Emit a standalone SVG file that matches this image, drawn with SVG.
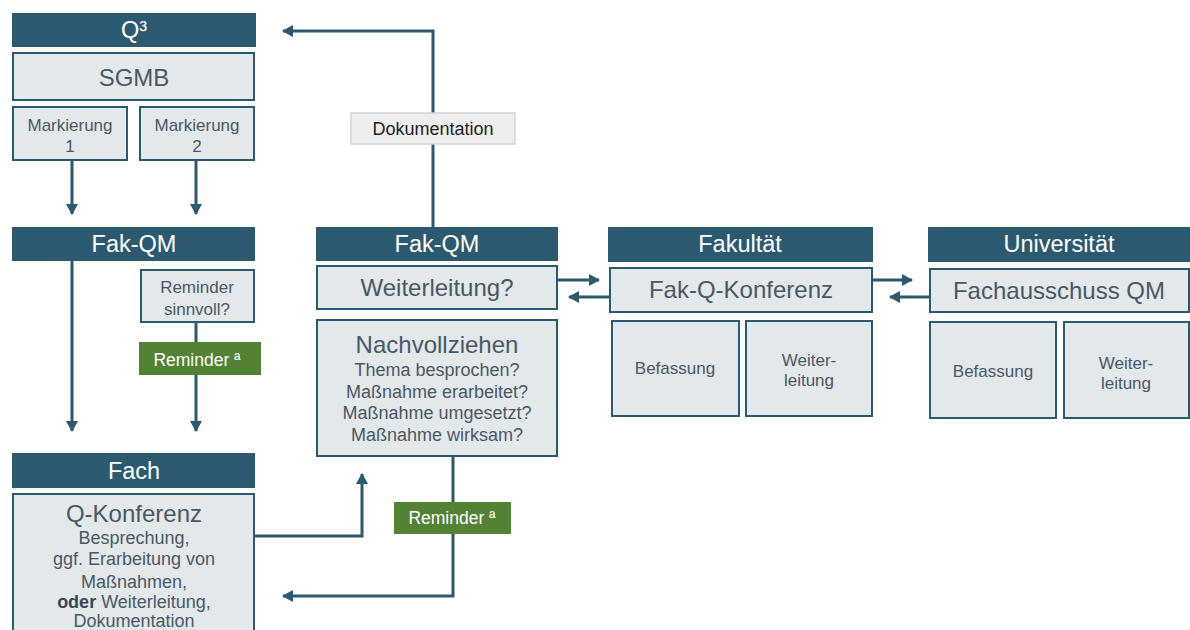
<svg xmlns="http://www.w3.org/2000/svg" width="1190" height="630" viewBox="0 0 1190 630">
<style>
.hd{fill:#2b596f}
.bx{fill:#e3e8eb;stroke:#2b596f;stroke-width:2}
.gr{fill:#548235}
.ht{font-family:"Liberation Sans",Arial,sans-serif;font-size:23.5px;fill:#ffffff;text-anchor:middle}
.t{font-family:"Liberation Sans",Arial,sans-serif;fill:#4a5865;text-anchor:middle}
.big{font-size:24px}
.sm{font-size:17px}
.md{font-size:18px}
.gt{font-family:"Liberation Sans",Arial,sans-serif;font-size:17.5px;fill:#ffffff;text-anchor:middle}
.cn{fill:none;stroke:#2b596f;stroke-width:3}
</style>
<defs>
<marker id="ah" markerUnits="userSpaceOnUse" markerWidth="14" markerHeight="14" refX="10" refY="6" orient="auto">
<path d="M0,0 L11,6 L0,12 Z" fill="#2b596f"/>
</marker>
</defs>
<rect width="1190" height="630" fill="#ffffff"/>

<g id="connectors">
<line class="cn" x1="72" y1="161" x2="72" y2="214" marker-end="url(#ah)"/>
<line class="cn" x1="196" y1="161" x2="196" y2="214" marker-end="url(#ah)"/>
<line class="cn" x1="72" y1="261" x2="72" y2="431" marker-end="url(#ah)"/>
<line class="cn" x1="196" y1="322" x2="196" y2="431" marker-end="url(#ah)"/>
<polyline class="cn" points="433,227 433,31 283,31" marker-end="url(#ah)"/>
<polyline class="cn" points="254,536 362,536 362,474" marker-end="url(#ah)"/>
<polyline class="cn" points="453,456 453,596 283,596" marker-end="url(#ah)"/>
<line class="cn" x1="558" y1="280" x2="599" y2="280" marker-end="url(#ah)"/>
<line class="cn" x1="609" y1="297" x2="569" y2="297" marker-end="url(#ah)"/>
<line class="cn" x1="872" y1="280" x2="912" y2="280" marker-end="url(#ah)"/>
<line class="cn" x1="929" y1="297" x2="890" y2="297" marker-end="url(#ah)"/>
</g>

<g id="q3">
<rect class="hd" x="12" y="13" width="244" height="34"/>
<text class="ht" x="134" y="38">Q³</text>
</g>
<g id="sgmb">
<rect class="bx" x="13" y="53" width="241" height="47"/>
<text class="t big" x="134" y="86">SGMB</text>
</g>
<g id="markierung1">
<rect class="bx" x="13" y="107" width="114" height="53"/>
<text class="t sm" x="70" y="131">Markierung</text>
<text class="t sm" x="70" y="152">1</text>
</g>
<g id="markierung2">
<rect class="bx" x="140" y="107" width="114" height="53"/>
<text class="t sm" x="197" y="131">Markierung</text>
<text class="t sm" x="197" y="152">2</text>
</g>

<g id="dokumentation">
<rect x="351" y="113" width="164" height="31" fill="#eeeeee" stroke="#d4d4d4" stroke-width="1.5"/>
<text x="433" y="135" font-family="Liberation Sans, Arial, sans-serif" font-size="18" fill="#1f1f1f" text-anchor="middle">Dokumentation</text>
</g>

<g id="fakqm-left">
<rect class="hd" x="12" y="227" width="243" height="34"/>
<text class="ht" x="134" y="252">Fak-QM</text>
</g>
<g id="reminder-sinnvoll">
<rect class="bx" x="141" y="270" width="113" height="52"/>
<text class="t sm" x="197" y="293">Reminder</text>
<text class="t sm" x="197" y="315">sinnvoll?</text>
</g>
<g id="reminder-left">
<rect class="gr" x="139" y="342" width="122" height="33"/>
<text class="gt" x="197" y="366">Reminder ª</text>
</g>

<g id="fach">
<rect class="hd" x="12" y="453" width="243" height="35"/>
<text class="ht" x="134" y="479">Fach</text>
</g>
<g id="q-konferenz">
<rect class="bx" x="13" y="494" width="241" height="145"/>
<text class="t" x="134" y="522" font-size="24">Q-Konferenz</text>
<text class="t md" x="134" y="544">Besprechung,</text>
<text class="t md" x="134" y="565">ggf. Erarbeitung von</text>
<text class="t md" x="134" y="588">Maßnahmen,</text>
<text class="t md" x="134" y="608"><tspan font-weight="bold" fill="#3a4753">oder</tspan> Weiterleitung,</text>
<text class="t md" x="134" y="627">Dokumentation</text>
</g>

<g id="fakqm-mid">
<rect class="hd" x="316" y="227" width="242" height="34"/>
<text class="ht" x="437" y="252">Fak-QM</text>
</g>
<g id="weiterleitung">
<rect class="bx" x="317" y="266" width="240" height="43"/>
<text class="t big" x="437" y="296">Weiterleitung?</text>
</g>
<g id="nachvollziehen">
<rect class="bx" x="317" y="320" width="240" height="136"/>
<text class="t" x="437" y="353" font-size="24">Nachvollziehen</text>
<text class="t md" x="437" y="376">Thema besprochen?</text>
<text class="t md" x="437" y="398">Maßnahme erarbeitet?</text>
<text class="t md" x="437" y="419">Maßnahme umgesetzt?</text>
<text class="t md" x="437" y="441">Maßnahme wirksam?</text>
</g>
<g id="reminder-mid">
<rect class="gr" x="394" y="502" width="117" height="32"/>
<text class="gt" x="452" y="524">Reminder ª</text>
</g>

<g id="fakultaet">
<rect class="hd" x="608" y="227" width="265" height="35"/>
<text class="ht" x="740" y="252">Fakultät</text>
</g>
<g id="fak-q-konferenz">
<rect class="bx" x="610" y="268" width="262" height="44"/>
<text class="t big" x="741" y="298">Fak-Q-Konferenz</text>
</g>
<g id="befassung-fak">
<rect class="bx" x="612" y="321" width="127" height="95"/>
<text class="t sm" x="675" y="374">Befassung</text>
</g>
<g id="weiterleitung-fak">
<rect class="bx" x="746" y="321" width="126" height="95"/>
<text class="t sm" x="809" y="366">Weiter-</text>
<text class="t sm" x="809" y="386">leitung</text>
</g>

<g id="universitaet">
<rect class="hd" x="928" y="227" width="262" height="35"/>
<text class="ht" x="1059" y="252">Universität</text>
</g>
<g id="fachausschuss">
<rect class="bx" x="930" y="269" width="259" height="43"/>
<text class="t big" x="1059" y="299">Fachausschuss QM</text>
</g>
<g id="befassung-uni">
<rect class="bx" x="930" y="322" width="126" height="96"/>
<text class="t sm" x="993" y="377">Befassung</text>
</g>
<g id="weiterleitung-uni">
<rect class="bx" x="1064" y="322" width="125" height="96"/>
<text class="t sm" x="1126" y="369">Weiter-</text>
<text class="t sm" x="1126" y="389">leitung</text>
</g>
</svg>
